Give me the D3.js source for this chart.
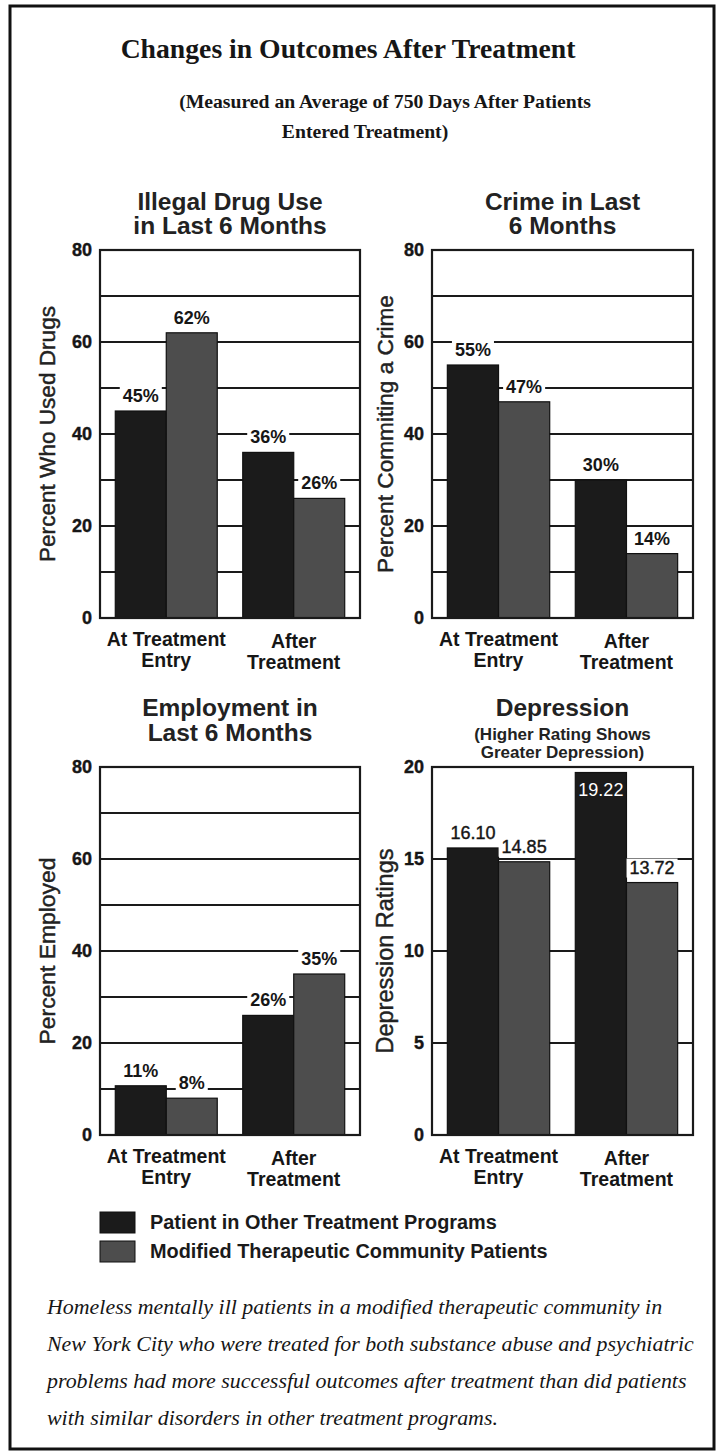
<!DOCTYPE html>
<html>
<head>
<meta charset="utf-8">
<script src="https://cdn.jsdelivr.net/npm/d3@7"></script>
<style>
  html, body { margin: 0; padding: 0; background: #fff; }
  svg { display: block; }
</style>
</head>
<body>
<svg id="chart" width="721" height="1454"></svg>
<script>
// ---------------- DATA ----------------
const mainTitle = "Changes in Outcomes After Treatment";
const subTitleLines = ["(Measured an Average of 750 Days After Patients", "Entered Treatment)"];
const categories = ["At Treatment Entry", "After Treatment"];
const categoryLines = [["At Treatment", "Entry"], ["After", "Treatment"]];
const seriesNames = ["Patient in Other Treatment Programs", "Modified Therapeutic Community Patients"];

const drugOther = [45, 36];
const drugModified = [62, 26];
const drugLabelsOther = ["45%", "36%"];
const drugLabelsModified = ["62%", "26%"];

const crimeOther = [55, 30];
const crimeModified = [47, 14];
const crimeLabelsOther = ["55%", "30%"];
const crimeLabelsModified = ["47%", "14%"];

const employOther = [10.7, 26];
const employModified = [8, 35];
const employLabelsOther = ["11%", "26%"];
const employLabelsModified = ["8%", "35%"];

// bar heights as drawn in the picture; printed labels kept separately
const deprOther = [15.6, 19.7];
const deprModified = [14.85, 13.72];
const deprLabelsOther = ["16.10", "19.22"];
const deprLabelsModified = ["14.85", "13.72"];

const pctTicks = [0, 20, 40, 60, 80];
const pctGrid = [10, 20, 30, 40, 50, 60, 70];
const deprTicks = [0, 5, 10, 15, 20];
const deprGrid = [5, 10, 15];

const captionLines = [
  "Homeless mentally ill patients in a modified therapeutic community in",
  "New York City who were treated for both substance abuse and psychiatric",
  "problems had more successful outcomes after treatment than did patients",
  "with similar disorders in other treatment programs."
];

// ---------------- STYLE / LAYOUT ----------------
const SANS = "'Liberation Sans', Arial, Helvetica, sans-serif";
const SERIF = "'Liberation Serif', 'Times New Roman', serif";
const INK = "#161616";
const colors = ["#1b1b1b", "#4d4d4d"];

const svg = d3.select("#chart");

function fit(sel, target) {
  const w = sel.node().getComputedTextLength();
  const fs = parseFloat(sel.attr("font-size"));
  if (w > 0) sel.attr("font-size", (fs * target / w).toFixed(2));
  return parseFloat(sel.attr("font-size"));
}

// outer frame
svg.append("rect")
  .attr("x", 10).attr("y", 6).attr("width", 704).attr("height", 1443)
  .attr("fill", "none").attr("stroke", "#111").attr("stroke-width", 3);

// main title
const t = svg.append("text").attr("x", 348).attr("y", 58)
  .attr("text-anchor", "middle").attr("font-family", SERIF).attr("font-weight", "bold")
  .attr("font-size", 26).attr("fill", INK).text(mainTitle);
fit(t, 455);
const s1 = svg.append("text").attr("x", 385).attr("y", 108)
  .attr("text-anchor", "middle").attr("font-family", SERIF).attr("font-weight", "bold")
  .attr("font-size", 20).attr("fill", INK).text(subTitleLines[0]);
const subSize = fit(s1, 412);
svg.append("text").attr("x", 365).attr("y", 138)
  .attr("text-anchor", "middle").attr("font-family", SERIF).attr("font-weight", "bold")
  .attr("font-size", subSize).attr("fill", INK).text(subTitleLines[1]);

// ---------------- PANELS ----------------
const panels = [
  { title: ["Illegal Drug Use", "in Last 6 Months"], titleDy: [-40, -16], sub: null,
    yTitle: "Percent Who Used Drugs", yTitleW: 256, yTitleX: 47,
    x0: 100, x1: 360, y0: 250, y1: 618, max: 80, ticks: pctTicks, grid: pctGrid,
    a: drugOther, b: drugModified, la: drugLabelsOther, lb: drugLabelsModified },
  { title: ["Crime in Last", "6 Months"], titleDy: [-40, -16], sub: null,
    yTitle: "Percent Commiting a Crime", yTitleW: 278, yTitleX: 385,
    x0: 432, x1: 693, y0: 250, y1: 618, max: 80, ticks: pctTicks, grid: pctGrid,
    a: crimeOther, b: crimeModified, la: crimeLabelsOther, lb: crimeLabelsModified },
  { title: ["Employment in", "Last 6 Months"], titleDy: [-51, -26], sub: null,
    yTitle: "Percent Employed", yTitleW: 187, yTitleX: 47,
    x0: 100, x1: 360, y0: 767, y1: 1135, max: 80, ticks: pctTicks, grid: pctGrid,
    a: employOther, b: employModified, la: employLabelsOther, lb: employLabelsModified },
  { title: ["Depression"], titleDy: [-51], sub: ["(Higher Rating Shows", "Greater Depression)"], subDy: [-27, -9],
    yTitle: "Depression Ratings", yTitleW: 205, yTitleX: 385,
    x0: 432, x1: 693, y0: 767, y1: 1135, max: 20, ticks: deprTicks, grid: deprGrid,
    a: deprOther, b: deprModified, la: deprLabelsOther, lb: deprLabelsModified, insideFirst: 1 }
];

panels.forEach((p, pi) => {
  const g = svg.append("g");
  const x = d3.scaleBand().domain(categories).range([p.x0, p.x1]).paddingInner(0.2).paddingOuter(0.12);
  const xs = d3.scaleBand().domain([0, 1]).range([0, x.bandwidth()]);
  const y = d3.scaleLinear().domain([0, p.max]).range([p.y1, p.y0]);
  const cx = (p.x0 + p.x1) / 2;

  // title
  p.title.forEach((line, i) => {
    g.append("text").attr("x", cx).attr("y", p.y0 + p.titleDy[i])
      .attr("text-anchor", "middle").attr("font-family", SANS).attr("font-weight", "bold")
      .attr("font-size", 24.5).attr("fill", "#222").text(line);
  });
  if (p.sub) {
    p.sub.forEach((line, i) => {
      g.append("text").attr("x", cx).attr("y", p.y0 + p.subDy[i])
        .attr("text-anchor", "middle").attr("font-family", SANS).attr("font-weight", "bold")
        .attr("font-size", 17).attr("fill", "#222").text(line);
    });
  }

  // gridlines
  g.selectAll("line.grid").data(p.grid).join("line")
    .attr("x1", p.x0).attr("x2", p.x1)
    .attr("y1", d => y(d)).attr("y2", d => y(d))
    .attr("stroke", "#1a1a1a").attr("stroke-width", 1.8);

  // bars
  const series = [p.a, p.b];
  series.forEach((vals, si) => {
    g.selectAll("rect.s" + si).data(vals).join("rect")
      .attr("x", (d, i) => x(categories[i]) + xs(si))
      .attr("y", d => y(d))
      .attr("width", xs.bandwidth())
      .attr("height", d => y(0) - y(d))
      .attr("fill", colors[si]).attr("stroke", "#111").attr("stroke-width", 1.2);
  });

  // frame
  g.append("rect").attr("x", p.x0).attr("y", p.y0)
    .attr("width", p.x1 - p.x0).attr("height", p.y1 - p.y0)
    .attr("fill", "none").attr("stroke", "#1a1a1a").attr("stroke-width", 2.2);

  // y axis ticks (labels only)
  const yAxis = d3.axisLeft(y).tickValues(p.ticks).tickSize(0).tickPadding(8);
  const ag = g.append("g").attr("transform", `translate(${p.x0},0)`).call(yAxis);
  ag.select(".domain").remove();
  ag.selectAll("text").attr("font-family", SANS).attr("font-weight", "bold")
    .attr("font-size", 18).attr("fill", INK).attr("stroke", INK).attr("stroke-width", 0.4);

  // y axis title
  const yt = g.append("text")
    .attr("transform", `translate(${p.yTitleX},${(p.y0 + p.y1) / 2}) rotate(-90)`)
    .attr("text-anchor", "middle").attr("dy", "0.35em")
    .attr("font-family", SANS).attr("font-size", 21).attr("fill", "#222")
    .attr("stroke", "#222").attr("stroke-width", 0.45).text(p.yTitle);
  fit(yt, p.yTitleW);

  // x category labels
  categories.forEach((c, i) => {
    categoryLines[i].forEach((line, li) => {
      g.append("text").attr("x", x(c) + x.bandwidth() / 2).attr("y", p.y1 + 28 + li * 21 + (i === 1 ? 2 : 0))
        .attr("text-anchor", "middle").attr("font-family", SANS).attr("font-weight", "bold")
        .attr("font-size", 19.5).attr("fill", INK).text(line);
    });
  });

  // value labels
  const labels = [p.la, p.lb];
  series.forEach((vals, si) => {
    vals.forEach((v, i) => {
      const lx = x(categories[i]) + xs(si) + xs.bandwidth() / 2;
      const inside = (p.insideFirst === i && si === 0);
      if (inside) {
        g.append("text").attr("x", lx).attr("y", y(v) + 23)
          .attr("text-anchor", "middle").attr("font-family", SANS)
          .attr("font-size", 18).attr("fill", "#fff").text(labels[si][i]);
        return;
      }
      const ly = y(v) - 9;
      const tx = g.append("text").attr("x", lx).attr("y", ly)
        .attr("text-anchor", "middle").attr("font-family", SANS)
        .attr("font-weight", p.max === 20 ? "normal" : "bold")
        .attr("font-size", 18).attr("fill", INK)
        .attr("stroke", p.max === 20 ? INK : "none").attr("stroke-width", 0.4)
        .text(labels[si][i]);
      const w = tx.node().getComputedTextLength();
      g.insert("rect", () => tx.node())
        .attr("x", lx - w / 2 - 3).attr("y", ly - 15).attr("width", w + 6).attr("height", 19)
        .attr("fill", "#fff");
    });
  });
});

// ---------------- LEGEND ----------------
const lg = svg.append("g");
seriesNames.forEach((name, i) => {
  lg.append("rect").attr("x", 100).attr("y", 1212 + i * 29).attr("width", 35).attr("height", 21)
    .attr("fill", colors[i]).attr("stroke", "#111").attr("stroke-width", 1);
});
const l1 = lg.append("text").attr("x", 150).attr("y", 1229)
  .attr("font-family", SANS).attr("font-weight", "bold").attr("font-size", 19)
  .attr("fill", "#1a1a1a").text(seriesNames[0]);
const legSize = fit(l1, 347);
lg.append("text").attr("x", 150).attr("y", 1258)
  .attr("font-family", SANS).attr("font-weight", "bold").attr("font-size", legSize)
  .attr("fill", "#1a1a1a").text(seriesNames[1]);

// ---------------- CAPTION ----------------
const cg = svg.append("g");
const c2 = cg.append("text").attr("x", 47).attr("y", 1351)
  .attr("font-family", SERIF).attr("font-style", "italic").attr("font-size", 21)
  .attr("fill", INK).text(captionLines[1]);
const capSize = fit(c2, 647);
captionLines.forEach((line, i) => {
  if (i === 1) return;
  cg.append("text").attr("x", 47).attr("y", 1314 + i * 37)
    .attr("font-family", SERIF).attr("font-style", "italic").attr("font-size", capSize)
    .attr("fill", INK).text(line);
});
</script>
</body>
</html>
